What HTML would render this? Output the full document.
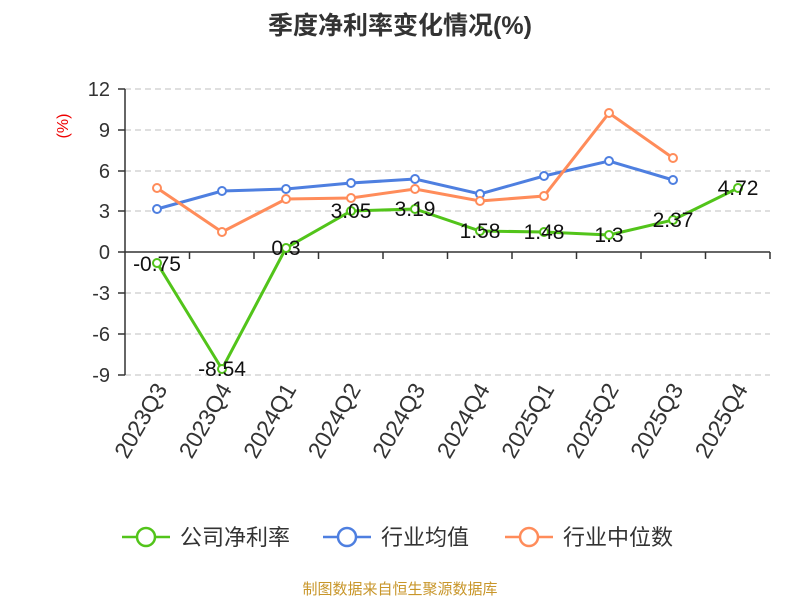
<!DOCTYPE html>
<html><head><meta charset="utf-8"><style>body{margin:0;background:#fff}svg{display:block;font-family:"Liberation Sans","Noto Sans CJK SC",sans-serif}</style></head><body>
<svg width="800" height="600" xmlns="http://www.w3.org/2000/svg">
<text x="400" y="34" text-anchor="middle" font-size="25" font-weight="bold" fill="#333">季度净利率变化情况(%)</text>
<text transform="translate(68,126) rotate(-90)" text-anchor="middle" font-size="16" fill="#e00">(%)</text>
<g stroke="#ccc" stroke-dasharray="6,4" stroke-width="1.2">
<line x1="125" x2="770" y1="89" y2="89"/><line x1="125" x2="770" y1="130" y2="130"/><line x1="125" x2="770" y1="171" y2="171"/><line x1="125" x2="770" y1="211" y2="211"/><line x1="125" x2="770" y1="293" y2="293"/><line x1="125" x2="770" y1="334" y2="334"/><line x1="125" x2="770" y1="375" y2="375"/>
</g>
<g stroke="#333" stroke-width="1.5"><line x1="125" y1="89" x2="125" y2="375"/><line x1="125" y1="252" x2="770" y2="252"/>
<line x1="118" x2="125" y1="89" y2="89"/><line x1="118" x2="125" y1="130" y2="130"/><line x1="118" x2="125" y1="171" y2="171"/><line x1="118" x2="125" y1="211" y2="211"/><line x1="118" x2="125" y1="252" y2="252"/><line x1="118" x2="125" y1="293" y2="293"/><line x1="118" x2="125" y1="334" y2="334"/><line x1="118" x2="125" y1="375" y2="375"/>
<line x1="189.5" x2="189.5" y1="252" y2="259"/><line x1="254" x2="254" y1="252" y2="259"/><line x1="318.5" x2="318.5" y1="252" y2="259"/><line x1="383" x2="383" y1="252" y2="259"/><line x1="447.5" x2="447.5" y1="252" y2="259"/><line x1="512" x2="512" y1="252" y2="259"/><line x1="576.5" x2="576.5" y1="252" y2="259"/><line x1="641" x2="641" y1="252" y2="259"/><line x1="705.5" x2="705.5" y1="252" y2="259"/><line x1="770" x2="770" y1="252" y2="259"/>
</g>
<g font-size="20" fill="#333" text-anchor="end">
<text x="110" y="96">12</text><text x="110" y="137">9</text><text x="110" y="178">6</text><text x="110" y="218">3</text><text x="110" y="259">0</text><text x="110" y="300">-3</text><text x="110" y="341">-6</text><text x="110" y="382">-9</text>
</g>
<g font-size="23" fill="#333" text-anchor="end">
<text transform="translate(168,389) rotate(-60)">2023Q3</text><text transform="translate(232.5,389) rotate(-60)">2023Q4</text><text transform="translate(297,389) rotate(-60)">2024Q1</text><text transform="translate(361.5,389) rotate(-60)">2024Q2</text><text transform="translate(426,389) rotate(-60)">2024Q3</text><text transform="translate(490.5,389) rotate(-60)">2024Q4</text><text transform="translate(555,389) rotate(-60)">2025Q1</text><text transform="translate(619.5,389) rotate(-60)">2025Q2</text><text transform="translate(684,389) rotate(-60)">2025Q3</text><text transform="translate(748.5,389) rotate(-60)">2025Q4</text>
</g>
<g fill="none" stroke-width="3">
<polyline stroke="#4e7fe0" points="157,209 222,191 286,189 351,183 415,179 480,194 544,176 609,161 673,180"/>
<polyline stroke="#ff8c5a" points="157,188 222,232 286,199 351,198 415,189 480,201 544,196 609,113 673,158"/>
<polyline stroke="#52c41a" points="157,263 222,369 286,248 351,211 415,209 480,231 544,232 609,235 673,220 738,188"/>
</g>
<g fill="#fff" stroke-width="2">
<g stroke="#4e7fe0"><circle cx="157" cy="209" r="4"/><circle cx="222" cy="191" r="4"/><circle cx="286" cy="189" r="4"/><circle cx="351" cy="183" r="4"/><circle cx="415" cy="179" r="4"/><circle cx="480" cy="194" r="4"/><circle cx="544" cy="176" r="4"/><circle cx="609" cy="161" r="4"/><circle cx="673" cy="180" r="4"/></g>
<g stroke="#ff8c5a"><circle cx="157" cy="188" r="4"/><circle cx="222" cy="232" r="4"/><circle cx="286" cy="199" r="4"/><circle cx="351" cy="198" r="4"/><circle cx="415" cy="189" r="4"/><circle cx="480" cy="201" r="4"/><circle cx="544" cy="196" r="4"/><circle cx="609" cy="113" r="4"/><circle cx="673" cy="158" r="4"/></g>
<g stroke="#52c41a"><circle cx="157" cy="263" r="4"/><circle cx="222" cy="369" r="4"/><circle cx="286" cy="248" r="4"/><circle cx="351" cy="211" r="4"/><circle cx="415" cy="209" r="4"/><circle cx="480" cy="231" r="4"/><circle cx="544" cy="232" r="4"/><circle cx="609" cy="235" r="4"/><circle cx="673" cy="220" r="4"/><circle cx="738" cy="188" r="4"/></g>
</g>
<g font-size="21" fill="#111" text-anchor="middle">
<text x="157" y="271">-0.75</text><text x="222" y="376">-8.54</text><text x="286" y="255">0.3</text><text x="351" y="218">3.05</text><text x="415" y="216">3.19</text><text x="480" y="238">1.58</text><text x="544" y="239">1.48</text><text x="609" y="242">1.3</text><text x="673" y="227">2.37</text><text x="738" y="195">4.72</text>
</g>
<g stroke-width="2.5" fill="#fff">
<line x1="122" x2="170" y1="537" y2="537" stroke="#52c41a"/><circle cx="146" cy="537" r="9" stroke="#52c41a"/>
<line x1="323" x2="371" y1="537" y2="537" stroke="#4e7fe0"/><circle cx="347" cy="537" r="9" stroke="#4e7fe0"/>
<line x1="505" x2="553" y1="537" y2="537" stroke="#ff8c5a"/><circle cx="529" cy="537" r="9" stroke="#ff8c5a"/>
</g>
<g font-size="22" fill="#333"><text x="180" y="545">公司净利率</text><text x="381" y="545">行业均值</text><text x="563" y="545">行业中位数</text></g>
<text x="400" y="594" text-anchor="middle" font-size="15" fill="#c8962a">制图数据来自恒生聚源数据库</text>
</svg>
</body></html>
